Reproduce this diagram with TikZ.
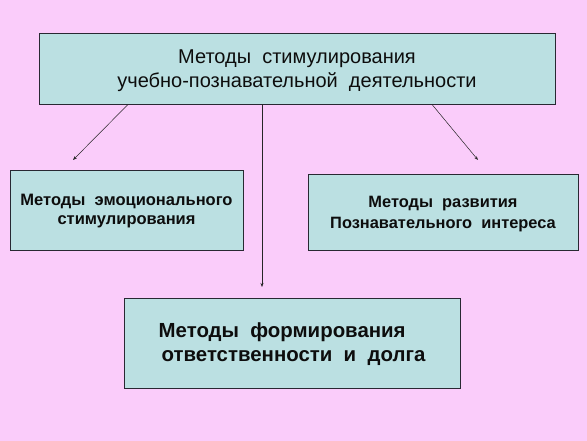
\documentclass[tikz,border=0pt]{standalone}
\usepackage{fontspec}
\setmainfont{Liberation Sans}
\usetikzlibrary{arrows.meta}
\definecolor{bgpink}{RGB}{250,204,250}
\definecolor{boxfill}{RGB}{187,224,226}
\definecolor{boxline}{RGB}{40,40,50}
\tikzset{
  box/.style={draw=boxline, line width=0.9pt, fill=boxfill, rectangle, inner sep=0pt},
  boxtext/.style={inner sep=0pt, text=black!95},
  conn/.style={draw=black!85, line width=0.5pt, -{Stealth[length=4pt,width=3pt]}}
}
\begin{document}
\begin{tikzpicture}[x=1pt,y=-1pt]
\fill[bgpink] (0,0) rectangle (587,441);
\useasboundingbox (0,0) rectangle (587,441);
\node[box, minimum width=516pt, minimum height=71pt] (top) at (297,68.5) {};
\node[boxtext, align=center, font=\fontsize{20}{23.5}\selectfont] (toptxt)
  at ([yshift=-2pt]top.center)
  {Методы\ \ стимулирования\\учебно-познавательной\ \ деятельности};
\node[box, minimum width=233pt, minimum height=80pt] (left) at (126.5,210) {};
\node[boxtext, align=center, font=\fontsize{16.5}{19}\selectfont\bfseries] (lefttxt)
  at ([yshift=-1.5pt]left.center)
  {Методы\ \ эмоционального\\стимулирования};
\node[box, minimum width=270pt, minimum height=76pt] (right) at (443,212) {};
\node[boxtext, align=center, font=\fontsize{16.4}{21}\selectfont\bfseries] (righttxt)
  at ([yshift=-2.5pt]right.center)
  {Методы\ \ развития\\Познавательного\ \ интереса};
\node[box, minimum width=336pt, minimum height=90pt] (bottom) at (292,343) {};
\node[boxtext, align=left, font=\fontsize{20.4}{24}\selectfont\bfseries] (bottomtxt)
  at ([yshift=-1.5pt]bottom.center)
  {Методы\ \ формирования\\\hspace*{3pt}ответственности\ \ и\ \ долга};
\coordinate (e1) at (73,160);
\coordinate (e2) at (478,160);
\coordinate (e3) at (262,287);
\draw[conn] ([xshift=-169pt]top.south) -- (e1);
\draw[conn] ([xshift=135pt]top.south) -- (e2);
\draw[conn] ([xshift=-35pt]top.south) -- (e3);
\end{tikzpicture}
\end{document}
